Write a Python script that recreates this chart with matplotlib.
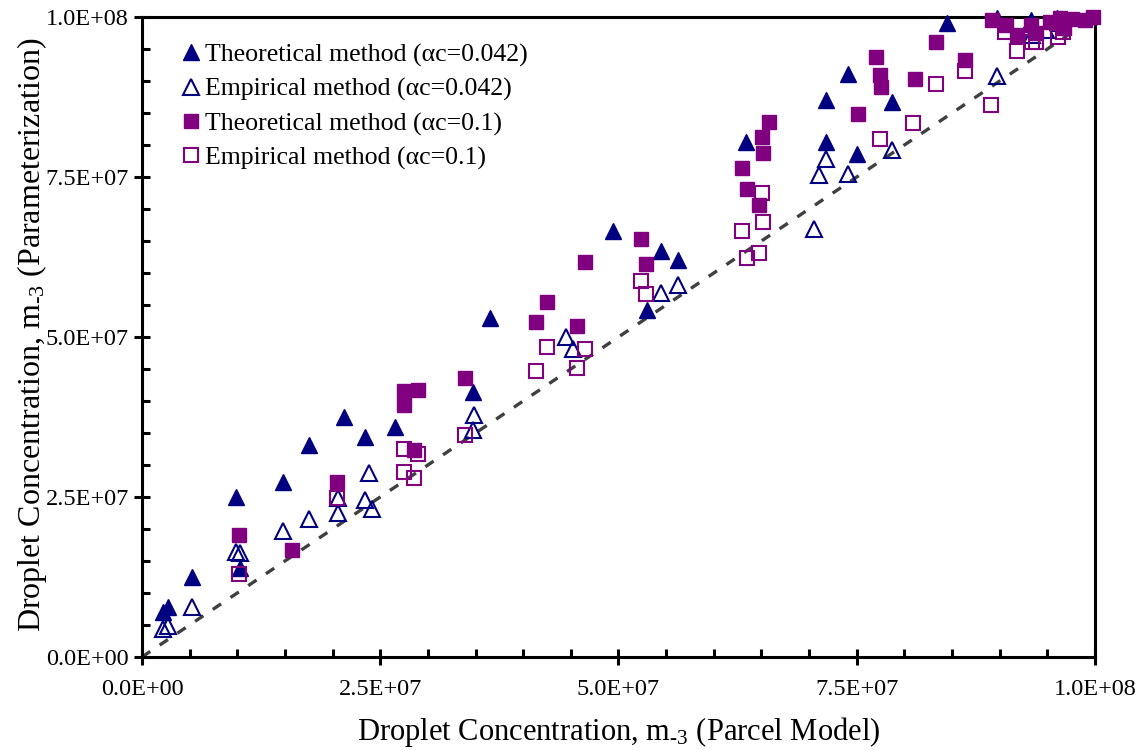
import matplotlib
matplotlib.use("Agg")
import matplotlib.pyplot as plt
import numpy as np
from matplotlib.ticker import MultipleLocator, FuncFormatter

plt.rcParams['font.family'] = ['Liberation Serif', 'DejaVu Serif']
plt.rcParams['mathtext.fontset'] = 'custom'
plt.rcParams['mathtext.rm'] = 'Liberation Serif'
plt.rcParams['mathtext.it'] = 'Liberation Serif:italic'

# Values in units of 1e6 m-3 (parcel model x, parameterization y)
theo042_x = [2.24, 2.76, 5.22, 9.86, 10.28, 14.83, 17.52, 21.23, 23.4, 26.55,
             34.73, 36.52, 49.45, 54.43, 56.25, 53.02, 63.35, 71.74, 71.74, 75.0,
             74.05, 78.73, 84.5, 89.7, 93.25, 95.98]
theo042_y = [7.08, 7.77, 12.55, 25.05, 13.9, 27.4, 33.2, 37.55, 34.4, 35.9,
             41.45, 53.0, 66.6, 63.4, 62.0, 54.2, 80.4, 80.5, 87.1, 78.6,
             91.1, 86.8, 99.1, 99.8, 99.6, 99.9]

emp042_x = [2.24, 2.7, 5.22, 9.86, 10.28, 14.83, 17.52, 20.6, 20.6, 23.82,
            23.4, 24.17, 34.8, 34.73, 44.5, 45.2, 54.43, 56.25, 70.55, 71.74,
            71.07, 74.05, 78.73, 89.77, 93.36, 94.83, 96.3]
emp042_y = [4.33, 4.84, 7.86, 16.45, 16.2, 19.7, 21.5, 24.8, 22.45, 28.8,
            24.5, 23.1, 37.8, 35.5, 49.95, 48.2, 56.8, 58.1, 66.9, 77.8,
            75.3, 75.5, 79.2, 90.8, 97.2, 98.0, 99.0]

theo01_x = [10.18, 15.71, 20.49, 27.49, 28.99, 27.49, 28.57, 33.89, 42.53, 41.31,
            45.61, 46.52, 52.33, 52.85, 65.82, 65.03, 65.13, 62.96, 63.45, 64.74,
            75.1, 77.02, 77.44, 77.54, 81.11, 83.32, 86.36, 89.16, 90.66, 91.78,
            93.25, 93.8, 95.3, 96.3, 97.6, 98.95, 99.8, 96.8]
theo01_y = [19.06, 16.72, 27.4, 41.56, 41.72, 39.4, 32.3, 43.55, 55.4, 52.3,
            51.7, 61.7, 65.3, 61.4, 83.6, 81.3, 78.8, 76.4, 73.1, 70.6,
            84.8, 93.7, 90.9, 89.0, 90.3, 96.1, 93.3, 99.6, 98.75, 97.2,
            98.75, 97.45, 99.2, 99.9, 99.7, 99.5, 100.0, 98.3]

emp01_x = [10.18, 20.49, 27.49, 28.99, 27.49, 28.57, 33.89, 42.53, 41.31, 46.52,
           45.65, 52.33, 52.85, 65.06, 65.13, 62.96, 63.45, 64.71, 77.44, 80.93,
           83.32, 86.36, 89.09, 90.56, 91.78, 93.36, 93.8, 96.15, 96.64]
emp01_y = [12.9, 24.8, 32.45, 31.7, 28.95, 28.0, 34.7, 48.5, 44.7, 48.1,
           45.2, 58.8, 56.7, 72.45, 67.9, 66.6, 62.3, 63.2, 80.9, 83.5,
           89.5, 91.6, 86.25, 97.7, 94.7, 96.1, 96.1, 96.9, 97.7]

scale = 1e6
navy = '#000080'
purple = '#800080'

fig = plt.figure(figsize=(11.42, 7.5), dpi=100)
ax = fig.add_axes([0.1243, 0.124, 0.8345, 0.8533])

# 1:1 line
ax.plot([0, 1e8], [0, 1e8], color='#404040', lw=2.4,
        linestyle=(0, (3, 3.4)), dash_capstyle='butt', zorder=1)

ax.plot(np.array(theo042_x) * scale, np.array(theo042_y) * scale, '^',
        ms=11.5, color=navy, mec=navy, ls='none', clip_on=False, zorder=3,
        label='Theoretical method (\u03b1c=0.042)')
ax.plot(np.array(emp042_x) * scale, np.array(emp042_y) * scale, '^',
        ms=11.5, mfc='none', mec=navy, mew=1.5, ls='none', clip_on=False, zorder=3,
        label='Empirical method (\u03b1c=0.042)')
ax.plot(np.array(theo01_x) * scale, np.array(theo01_y) * scale, 's',
        ms=10.5, color=purple, mec=purple, ls='none', clip_on=False, zorder=3,
        label='Theoretical method (\u03b1c=0.1)')
ax.plot(np.array(emp01_x) * scale, np.array(emp01_y) * scale, 's',
        ms=10.5, mfc='none', mec=purple, mew=1.5, ls='none', clip_on=False, zorder=3,
        label='Empirical method (\u03b1c=0.1)')

ax.set_xlim(0, 1e8)
ax.set_ylim(0, 1e8)

fmt = FuncFormatter(lambda v, p: '{:.1E}'.format(v))
for axis in (ax.xaxis, ax.yaxis):
    axis.set_major_locator(MultipleLocator(2.5e7))
    axis.set_minor_locator(MultipleLocator(5e6))
    axis.set_major_formatter(fmt)

ax.tick_params(which='major', direction='inout', length=11, width=2.2,
               labelsize=17.5, pad=10)
ax.tick_params(which='minor', direction='in', length=6, width=2.2)
ax.tick_params(axis='y', which='major', pad=4)

for s in ax.spines.values():
    s.set_linewidth(2.2)

hy = '\u2010'
ax.set_xlabel('Droplet Concentration, m$_{\\mathrm{' + hy + '3}}$ (Parcel Model)',
              fontsize=22, labelpad=11)
ax.set_ylabel('Droplet Concentration, m$_{\\mathrm{' + hy + '3}}$ (Parameterization)',
              fontsize=23)
ax.yaxis.set_label_coords(-0.098, 0.503)

ax.legend(loc='upper left', bbox_to_anchor=(0.03, 0.975), frameon=False,
          fontsize=18.6, handlelength=0.8, handletextpad=0.15, labelspacing=0.42,
          borderaxespad=0)

fig.savefig('out.png', dpi=100)
